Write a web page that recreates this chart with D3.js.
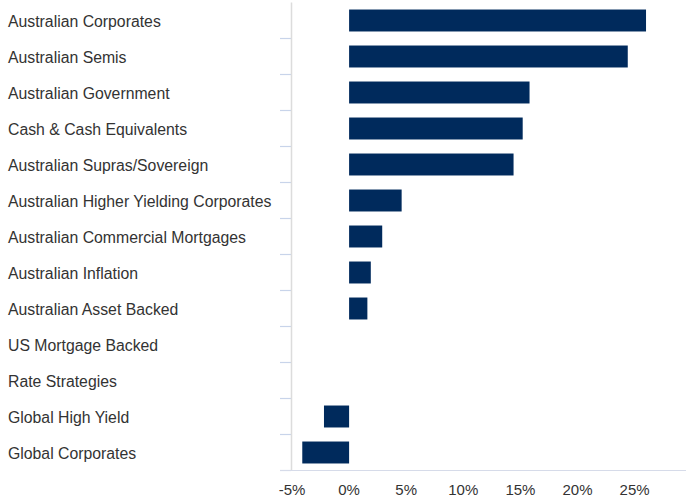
<!DOCTYPE html>
<html>
<head>
<meta charset="utf-8">
<script src="https://cdn.jsdelivr.net/npm/d3@7"></script>
<style>
  body { margin: 0; background: #fff; }
  svg { display: block; font-family: "Liberation Sans", Arial, sans-serif; }
</style>
</head>
<body>
<div id="chart"></div>
<script>
// 자산군 목록
const categories = [
  "Australian Corporates",
  "Australian Semis",
  "Australian Government",
  "Cash & Cash Equivalents",
  "Australian Supras/Sovereign",
  "Australian Higher Yielding Corporates",
  "Australian Commercial Mortgages",
  "Australian Inflation",
  "Australian Asset Backed",
  "US Mortgage Backed",
  "Rate Strategies",
  "Global High Yield",
  "Global Corporates"
];

// 비중 (%)
const weights = [26.0, 24.4, 15.8, 15.2, 14.4, 4.6, 2.9, 1.9, 1.6, 0, 0, -2.2, -4.1];

// x축 눈금
const xTicks = [-5, 0, 5, 10, 15, 20, 25];

const width = 686, height = 499;
const margin = { top: 2.5, right: 0, bottom: 28.5, left: 292 };

const svg = d3.select("#chart")
  .append("svg")
  .attr("width", width)
  .attr("height", height);

const x = d3.scaleLinear()
  .domain([-5, 29.5])
  .range([margin.left, width - margin.right]);

const y = d3.scaleBand()
  .domain(categories)
  .range([margin.top, height - margin.bottom])
  .paddingInner(0.39)
  .paddingOuter(0.195);

// 카테고리 경계 눈금
const band = y.step();
const bounds = d3.range(categories.length + 1).map(i => margin.top + i * band);

svg.append("g")
  .selectAll("line")
  .data(bounds.slice(1))
  .join("line")
  .attr("x1", 280)
  .attr("x2", 291)
  .attr("y1", d => d)
  .attr("y2", d => d)
  .attr("stroke", "#c8d4ea")
  .attr("stroke-width", 1.2);

// 왼쪽 축선
svg.append("line")
  .attr("x1", 291.5)
  .attr("x2", 291.5)
  .attr("y1", margin.top)
  .attr("y2", height - margin.bottom)
  .attr("stroke", "#dcdcdc")
  .attr("stroke-width", 1.5);

// 아래 축선
svg.append("line")
  .attr("x1", 280)
  .attr("x2", width)
  .attr("y1", height - margin.bottom)
  .attr("y2", height - margin.bottom)
  .attr("stroke", "#d6dbe9")
  .attr("stroke-width", 1.2);

// 막대
svg.append("g")
  .selectAll("rect")
  .data(weights)
  .join("rect")
  .attr("x", d => x(Math.min(0, d)))
  .attr("y", (d, i) => y(categories[i]))
  .attr("width", d => Math.abs(x(d) - x(0)))
  .attr("height", y.bandwidth())
  .attr("fill", "#002a5c");

// 카테고리 라벨
svg.append("g")
  .selectAll("text")
  .data(categories)
  .join("text")
  .attr("x", 8)
  .attr("y", d => y(d) + y.bandwidth() / 2 + 1)
  .attr("dy", "0.35em")
  .attr("font-size", 15.8)
  .attr("fill", "#333")
  .text(d => d);

// x축 라벨
svg.append("g")
  .selectAll("text")
  .data(xTicks)
  .join("text")
  .attr("x", d => x(d))
  .attr("y", 490)
  .attr("dy", "0.35em")
  .attr("text-anchor", "middle")
  .attr("font-size", 15)
  .attr("fill", "#333")
  .text(d => d + "%");
</script>
</body>
</html>
